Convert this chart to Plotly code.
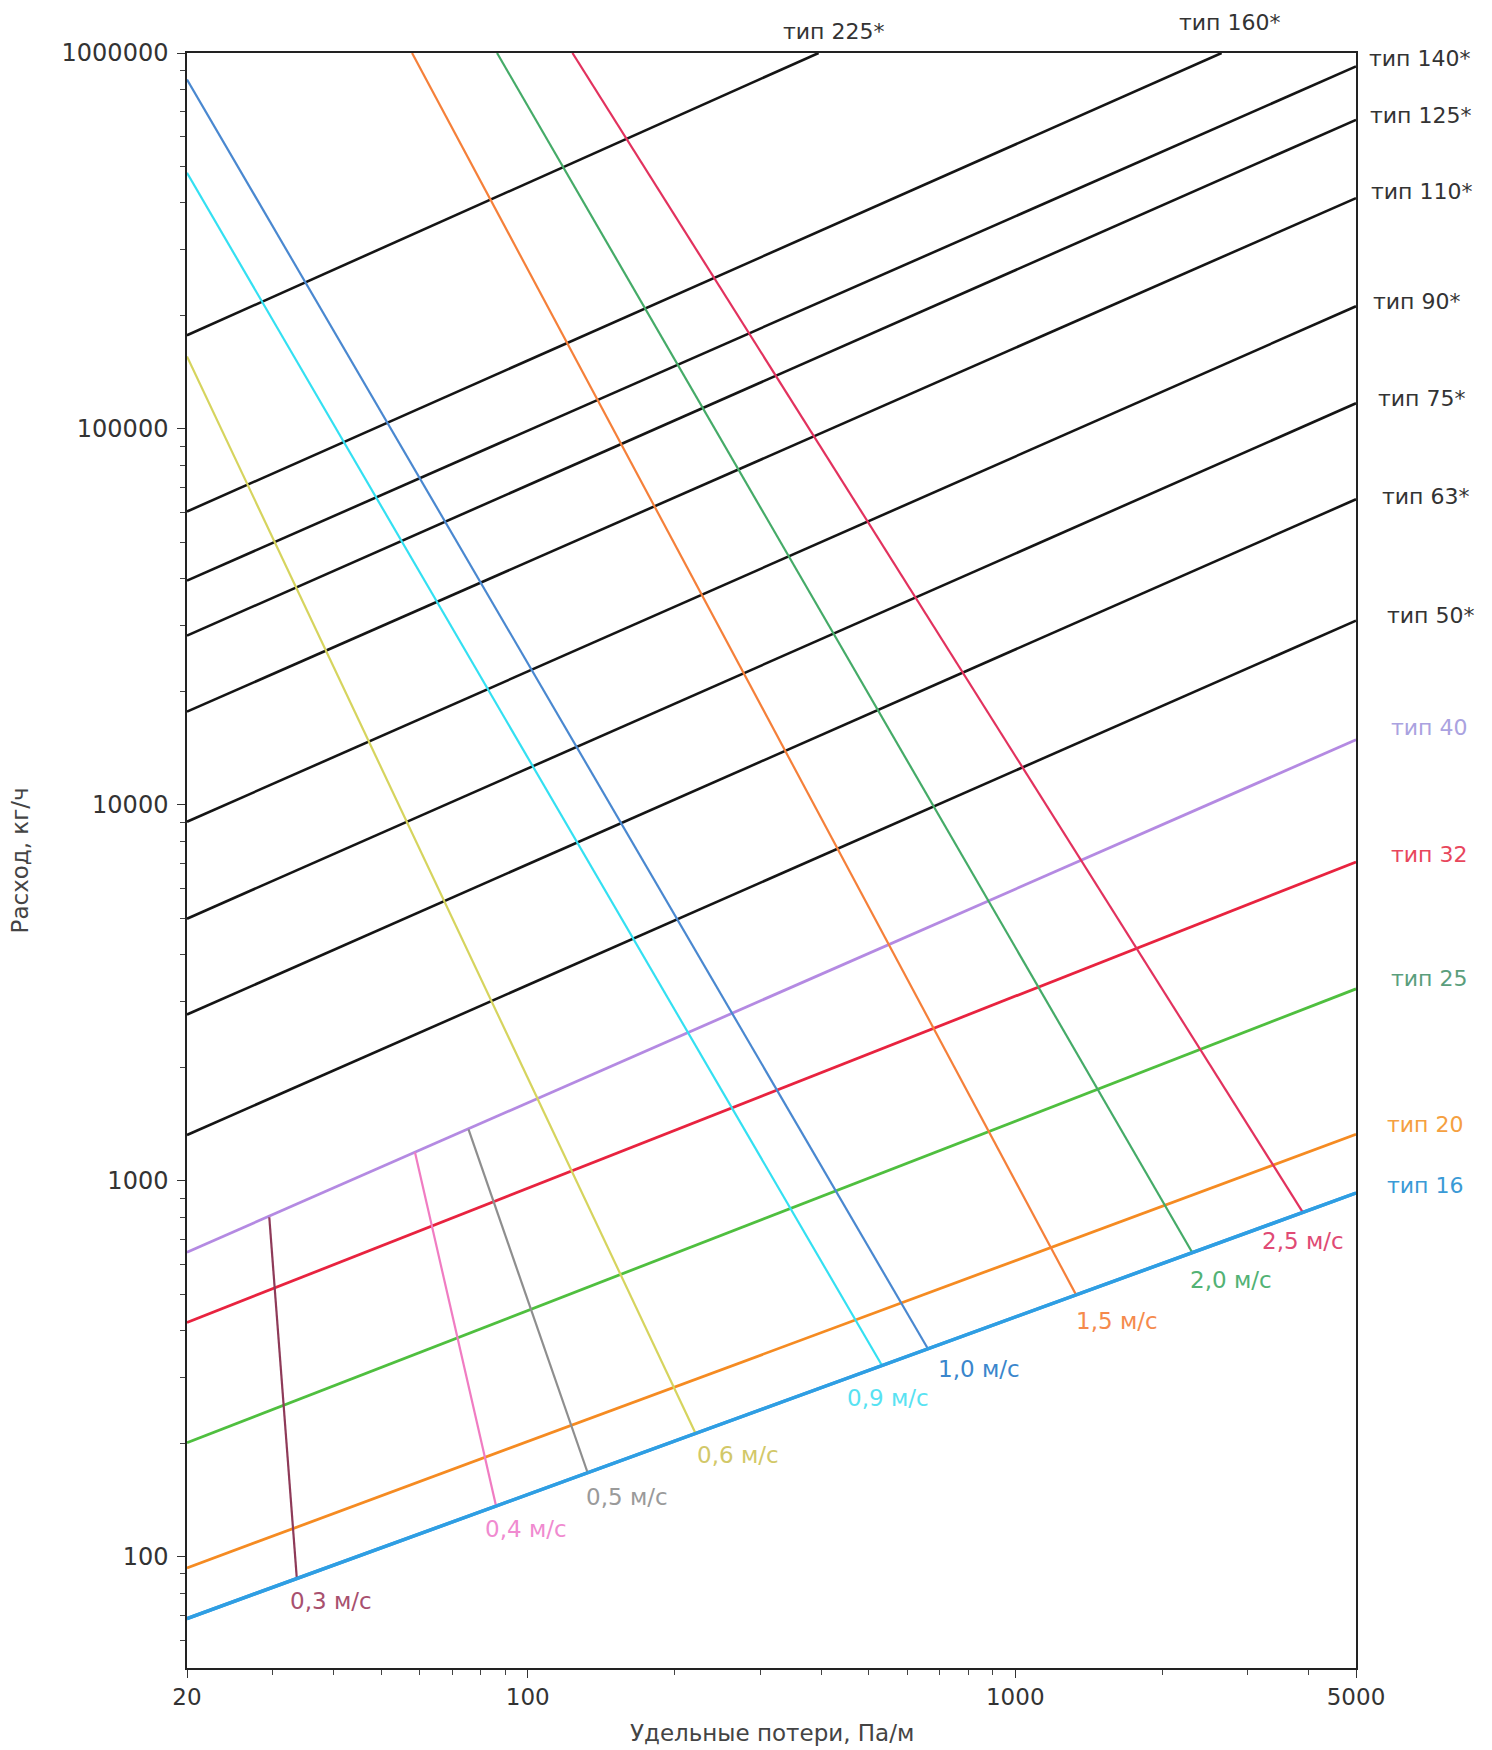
import math
import plotly.graph_objects as go

# ---------------- data ----------------
# pipe-type lines: specific pressure loss R (Pa/m) -> flow G (kg/h)
pipe_names = ["тип 16", "тип 20", "тип 25", "тип 32", "тип 40", "тип 50*", "тип 63*",
              "тип 75*", "тип 90*", "тип 110*", "тип 125*", "тип 140*", "тип 160*", "тип 225*"]
pipe_r_start = [20, 20, 20, 20, 20, 20, 20, 20, 20, 20, 20, 20, 20, 20]
pipe_g_start = [68.5, 93.4, 201, 420, 646, 1324, 2770, 4980, 9020, 17700, 28200, 39500, 60300, 177500]
pipe_r_end = [5000, 5000, 5000, 5000, 5000, 5000, 5000, 5000, 5000, 5000, 5000, 5000, 2650, 395]
pipe_g_end = [928, 1330, 3240, 7050, 14900, 30900, 65000, 117000, 212000, 411000, 664000, 921000,
              1000000, 1000000]

# velocity lines
vel_names = ["0,3 м/с", "0,4 м/с", "0,5 м/с", "0,6 м/с", "0,9 м/с", "1,0 м/с", "1,5 м/с", "2,0 м/с", "2,5 м/с"]
vel_r_start = [29.5, 58.7, 75.6, 20, 20, 20, 57.9, 86.5, 123.5]
vel_g_start = [800, 1192, 1370, 155900, 480000, 850000, 1000000, 1000000, 1000000]
vel_r_end = [33.6, 86.1, 132.7, 221, 533, 662, 1334, 2307, 3890]
vel_g_end = [87.5, 136.5, 167.3, 212.8, 322.6, 357.6, 496.6, 644.6, 824.7]

x_tick_vals = [20, 100, 1000, 5000]
x_tick_text = ["20", "100", "1000", "5000"]
y_tick_vals = [100, 1000, 10000, 100000, 1000000]
y_tick_text = ["100", "1000", "10000", "100000", "1000000"]

# ---------------- styles ----------------
FONT = "DejaVu Sans"
pipe_colors = ["#2f9ee3", "#f58b22", "#4fbf3f", "#e8233f", "#b48ae2"] + ["#151515"] * 9
pipe_widths = [3.4, 2.8, 2.8, 2.8, 2.8] + [2.6] * 9
pipe_label_colors = ["#3a9ad6", "#f5a040", "#5a9e7c", "#e8465c", "#aaa2e0"] + ["#333333"] * 9
# label offsets (px) relative to each line's right end: (dx, dy-up)
pipe_label_off = [(29, 8), (29, 10), (33, 10), (33, 7), (33, 12), (29, 5), (24, 3),
                  (20, 5), (15, 5), (13, 7), (12, 4), (11, 8), (8, 31), (15, 22)]

vel_colors = ["#8e3a58", "#f07cc2", "#8e8e8e", "#d6d45e", "#34e0f2", "#4a88d0",
              "#f5803a", "#45ab68", "#e2325e"]
vel_label_colors = ["#a8506e", "#f08ad0", "#9a9a9a", "#d2c868", "#58e2f2", "#3a86cc",
                    "#f58a4c", "#52b274", "#e04a74"]
vel_label_off = [(-9, -22), (-13, -23), (-4, -24), (-1, -22), (-37, -32), (8, -20),
                 (-2, -26), (-4, -27), (-43, -29)]

X_RANGE = [math.log10(20), math.log10(5000)]
Y_RANGE = [math.log10(50.6), 6.0]

fig = go.Figure()

# pipe lines
for i in reversed(range(len(pipe_names))):
    fig.add_trace(go.Scatter(
        x=[pipe_r_start[i], pipe_r_end[i]], y=[pipe_g_start[i], pipe_g_end[i]],
        mode="lines", line=dict(color=pipe_colors[i], width=pipe_widths[i]),
        showlegend=False, hoverinfo="skip"))

for i in range(len(vel_names)):
    fig.add_trace(go.Scatter(
        x=[vel_r_start[i], vel_r_end[i]], y=[vel_g_start[i], vel_g_end[i]],
        mode="lines", line=dict(color=vel_colors[i], width=2.2),
        showlegend=False, hoverinfo="skip"))

# re-draw pipe 16 on top (it carries the velocity end points)
fig.add_trace(go.Scatter(
    x=[pipe_r_start[0], pipe_r_end[0]], y=[pipe_g_start[0], pipe_g_end[0]],
    mode="lines", line=dict(color=pipe_colors[0], width=pipe_widths[0]),
    showlegend=False, hoverinfo="skip"))

annotations = []
for i, name in enumerate(pipe_names):
    dx, dy = pipe_label_off[i]
    top = pipe_r_end[i] < 5000
    ax = min(math.log10(pipe_r_end[i]), X_RANGE[1])
    ay = min(math.log10(pipe_g_end[i]), Y_RANGE[1])
    annotations.append(dict(
        x=ax, y=ay, xref="x", yref="y",
        text=name, showarrow=False,
        xanchor="center" if top else "left", yanchor="middle",
        xshift=dx, yshift=dy,
        font=dict(family=FONT, size=22, color=pipe_label_colors[i])))

for i, name in enumerate(vel_names):
    dx, dy = vel_label_off[i]
    annotations.append(dict(
        x=math.log10(vel_r_end[i]), y=math.log10(vel_g_end[i]), xref="x", yref="y",
        text=name, showarrow=False, xanchor="left", yanchor="middle",
        xshift=dx, yshift=dy,
        font=dict(family=FONT, size=23, color=vel_label_colors[i])))

# axis titles
annotations.append(dict(x=0.5, y=-0.040, xref="paper", yref="paper",
                        text="Удельные потери, Па/м", showarrow=False,
                        xanchor="center", yanchor="middle",
                        font=dict(family=FONT, size=23, color="#444444")))
annotations.append(dict(x=-0.1429, y=0.5, xref="paper", yref="paper",
                        text="Расход, кг/ч", showarrow=False, textangle=-90,
                        xanchor="center", yanchor="middle",
                        font=dict(family=FONT, size=23, color="#444444")))

x_minor = [30, 40, 50, 60, 70, 80, 90, 200, 300, 400, 500, 600, 700, 800, 900, 2000, 3000, 4000]
y_minor = [60, 70, 80, 90]
for dec in [100, 1000, 10000, 100000]:
    y_minor += [dec * k for k in range(2, 10)]

axis_common = dict(showgrid=False, zeroline=False, showline=True, mirror=True,
                   linecolor="#222222", linewidth=1.5, ticks="outside", ticklen=8,
                   tickwidth=1.3, tickcolor="#333333")

fig.update_layout(
    width=1492, height=1750,
    margin=dict(l=187, r=136, t=53, b=82),
    paper_bgcolor="white", plot_bgcolor="white",
    font=dict(family=FONT, color="#333333"),
    annotations=annotations,
    xaxis=dict(type="log", range=X_RANGE, tickmode="array",
               tickvals=x_tick_vals, ticktext=x_tick_text,
               tickfont=dict(family=FONT, size=23, color="#333333"),
               minor=dict(tickmode="array", tickvals=x_minor, ticks="outside",
                          ticklen=5, tickwidth=1, tickcolor="#444444"),
               **axis_common),
    yaxis=dict(type="log", range=Y_RANGE, tickmode="array",
               tickvals=y_tick_vals, ticktext=y_tick_text,
               tickfont=dict(family=FONT, size=24, color="#333333"),
               ticklabelstandoff=4,
               minor=dict(tickmode="array", tickvals=y_minor, ticks="outside",
                          ticklen=5, tickwidth=1, tickcolor="#444444"),
               **axis_common),
)

fig.write_html("out.html", config={"displayModeBar": False},
               post_script="document.body.style.margin='0';")
